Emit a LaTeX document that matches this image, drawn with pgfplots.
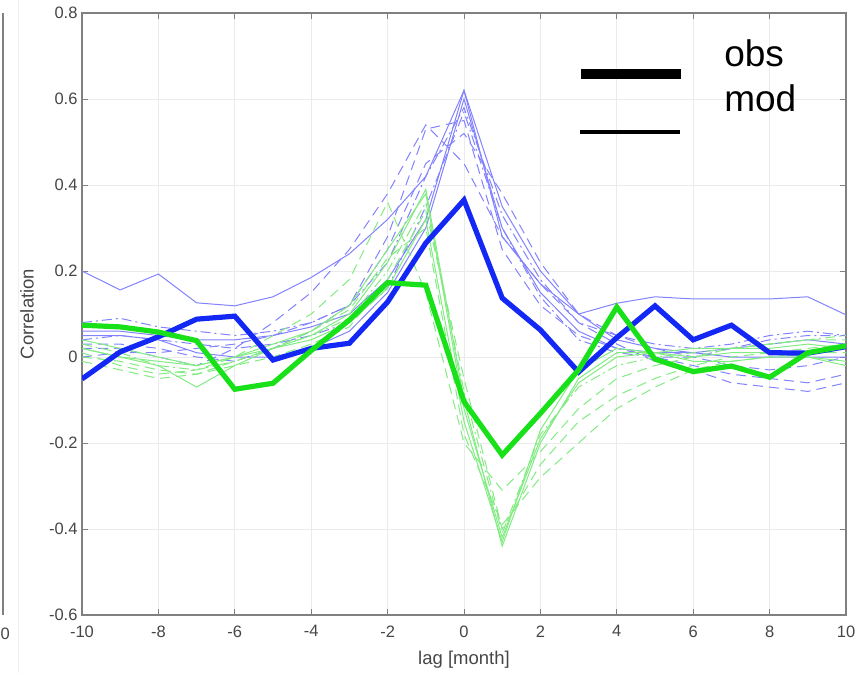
\documentclass[border=0pt]{standalone}
\usepackage{pgfplots}
\pgfplotsset{compat=1.18}
\usepackage{fontspec}
\setmainfont{Liberation Sans}
\definecolor{obsblue}{RGB}{20,40,245}
\definecolor{obsgreen}{RGB}{25,225,25}
\definecolor{modblue}{RGB}{130,130,255}
\definecolor{modgreen}{RGB}{130,235,130}
\definecolor{axgray}{RGB}{128,128,128}
\definecolor{lblgray}{RGB}{70,70,70}
\tikzset{
  mdash/.style={dash pattern=on 10pt off 6pt},
  mdashdot/.style={dash pattern=on 10pt off 4pt on 2pt off 4pt},
}
\pgfplotstableread{
lag  obsB   obsG   B1    B2    B3    B4    B5    B6    B7    B8    G1    G2    G3    G4    G5    G6    G7
-10 -0.051  0.074  0.200 0.050 0.080 0.030 0.020 0.060 0.040 0.000  0.020  0.000  0.030  0.040  0.010  0.020 -0.010
-9   0.012  0.070  0.156 0.050 0.090 0.030 0.020 0.060 0.050 0.010  0.000 -0.010  0.010  0.020 -0.020  0.000 -0.030
-8   0.047  0.058  0.193 0.040 0.070 0.020 0.000 0.050 0.040 0.010 -0.020 -0.030 -0.020  0.000 -0.040 -0.010 -0.050
-7   0.088  0.038  0.126 0.010 0.060 0.000 -0.020 0.040 0.030 0.020 -0.070 -0.040 -0.030 -0.020 -0.030 -0.020 -0.040
-6   0.095 -0.075  0.119 0.000 0.050 -0.010 0.020 0.040 0.020 0.030 -0.020 -0.020 -0.010  0.000  0.000  0.000 -0.010
-5  -0.007 -0.061  0.140 0.000 0.060 0.020 0.080 0.050 0.030 0.050  0.020  0.000  0.020  0.030  0.050  0.020  0.020
-4   0.020  0.015  0.185 0.020 0.080 0.060 0.150 0.070 0.050 0.080  0.050  0.030  0.050  0.060  0.100  0.040  0.060
-3   0.032  0.086  0.240 0.060 0.120 0.120 0.250 0.100 0.080 0.120  0.100  0.070  0.090  0.120  0.180  0.080  0.110
-2   0.128  0.173  0.320 0.150 0.220 0.280 0.380 0.180 0.160 0.250  0.220  0.180  0.200  0.250  0.360  0.160  0.230
-1   0.265  0.167  0.420 0.300 0.420 0.530 0.540 0.320 0.350 0.450  0.390  0.340  0.360  0.380  0.150  0.320  0.300
0    0.365 -0.104  0.620 0.600 0.580 0.550 0.450 0.620 0.570 0.520 -0.100 -0.050 -0.080 -0.120 -0.200 -0.150 -0.180
1    0.137 -0.228  0.280 0.300 0.330 0.250 0.280 0.350 0.300 0.380 -0.440 -0.400 -0.410 -0.420 -0.310 -0.430 -0.390
2    0.063 -0.131  0.170 0.150 0.180 0.120 0.170 0.200 0.140 0.220 -0.200 -0.250 -0.180 -0.190 -0.220 -0.170 -0.280
3   -0.035 -0.030  0.100 0.060 0.080 0.050 0.080 0.100 0.040 0.100 -0.050 -0.150 -0.070 -0.060 -0.120 -0.030 -0.200
4    0.045  0.116  0.125 0.020 0.050 0.020 0.030 0.040 0.010 0.050  0.010 -0.090 -0.020  0.000 -0.050  0.020 -0.120
5    0.119 -0.005  0.140 0.010 0.030 0.000 -0.010 0.020 0.000 0.020  0.010 -0.050  0.000  0.010 -0.020  0.010 -0.070
6    0.040 -0.034  0.135 0.010 0.020 -0.020 -0.030 0.010 0.000 0.000  0.000 -0.020  0.010  0.020  0.000 -0.010 -0.030
7    0.074 -0.021  0.135 0.000 0.030 -0.040 -0.060 0.020 0.020 -0.020  0.010  0.000  0.020  0.020  0.020 -0.010 -0.010
8    0.010 -0.047  0.135 0.000 0.050 -0.050 -0.070 0.030 0.040 -0.030  0.010  0.010  0.030  0.020  0.030  0.000  0.000
9    0.009  0.010  0.140 0.000 0.060 -0.060 -0.080 0.040 0.050 -0.020  0.000  0.020  0.040  0.030  0.040  0.000  0.010
10   0.024  0.026  0.098 0.000 0.050 -0.040 -0.060 0.030 0.050 0.000  -0.010  0.030  0.050  0.020  0.040 -0.020  0.010
}\datatable
\begin{document}
\begin{tikzpicture}
\useasboundingbox (0,0) rectangle (866pt,673pt);
% sliver of the neighbouring panel
\draw[axgray, line width=2.5pt] (3pt,58pt) -- (3pt,660pt);
\draw[black!6, line width=1pt] (18pt,0pt) -- (18pt,673pt);
\node[anchor=base west, font=\fontsize{16.5}{16.5}\selectfont, text=lblgray, inner sep=0pt] at (0.5pt,34pt) {0};
\begin{axis}[
  at={(82pt,58pt)}, anchor=south west,
  width=764pt, height=602pt, scale only axis,
  xmin=-10, xmax=10, ymin=-0.6, ymax=0.8,
  xtick={-10,-8,-6,-4,-2,0,2,4,6,8,10},
  ytick={-0.6,-0.4,-0.2,0,0.2,0.4,0.6,0.8},
  yticklabels={-0.6,-0.4,-0.2,0,0.2,0.4,0.6,0.8},
  xticklabels={-10,-8,-6,-4,-2,0,2,4,6,8,10},
  grid=major,
  major grid style={line width=1pt, black!8},
  axis line style={line width=1.8pt, axgray},
  major tick style={line width=1pt, axgray},
  major tick length=6pt,
  tick align=inside,
  xtick pos=both, ytick pos=both,
  xticklabel pos=lower, yticklabel pos=left,
  ticklabel style={font=\fontsize{16.5}{16.5}\selectfont, text=lblgray},
  xticklabel style={yshift=-7pt},
  yticklabel style={xshift=-1pt},
  /pgf/number format/assume math mode=true,
  xlabel={lag [month]}, ylabel={Correlation},
  label style={font=\fontsize{18.5}{18.5}\selectfont, text=lblgray},
  xlabel style={at={(axis description cs:0.5,-0.0745)}, anchor=center},
  ylabel style={at={(axis description cs:-0.072,0.5)}, anchor=center},
  clip=true,
]
% model members (blue)
\addplot[modblue, line width=1pt] table[x=lag,y=B1]{\datatable};
\addplot[modblue, line width=1pt] table[x=lag,y=B2]{\datatable};
\addplot[modblue, line width=1pt, mdashdot] table[x=lag,y=B3]{\datatable};
\addplot[modblue, line width=1pt, mdash] table[x=lag,y=B4]{\datatable};
\addplot[modblue, line width=1pt, mdash] table[x=lag,y=B5]{\datatable};
\addplot[modblue, line width=1pt] table[x=lag,y=B6]{\datatable};
\addplot[modblue, line width=1pt, mdashdot] table[x=lag,y=B7]{\datatable};
\addplot[modblue, line width=1pt, mdash] table[x=lag,y=B8]{\datatable};
% model members (green)
\addplot[modgreen, line width=1pt] table[x=lag,y=G1]{\datatable};
\addplot[modgreen, line width=1pt, mdash] table[x=lag,y=G2]{\datatable};
\addplot[modgreen, line width=1pt, mdashdot] table[x=lag,y=G3]{\datatable};
\addplot[modgreen, line width=1pt] table[x=lag,y=G4]{\datatable};
\addplot[modgreen, line width=1pt, mdash] table[x=lag,y=G5]{\datatable};
\addplot[modgreen, line width=1pt] table[x=lag,y=G6]{\datatable};
\addplot[modgreen, line width=1pt, mdash] table[x=lag,y=G7]{\datatable};
% observations
\addplot[obsblue, line width=5.2pt, line join=miter] table[x=lag,y=obsB]{\datatable};
\addplot[obsgreen, line width=5.2pt, line join=miter] table[x=lag,y=obsG]{\datatable};
% legend
\addplot[black, line width=10pt] coordinates {(3.06,0.658) (5.68,0.658)};
\addplot[black, line width=4pt] coordinates {(3.04,0.523) (5.65,0.523)};
\node[anchor=base west, inner sep=0pt, font=\fontsize{37}{37}\selectfont] at (axis cs:6.81,0.675) {obs};
\node[anchor=base west, inner sep=0pt, font=\fontsize{37}{37}\selectfont] at (axis cs:6.81,0.570) {mod};
\end{axis}
\end{tikzpicture}
\end{document}
